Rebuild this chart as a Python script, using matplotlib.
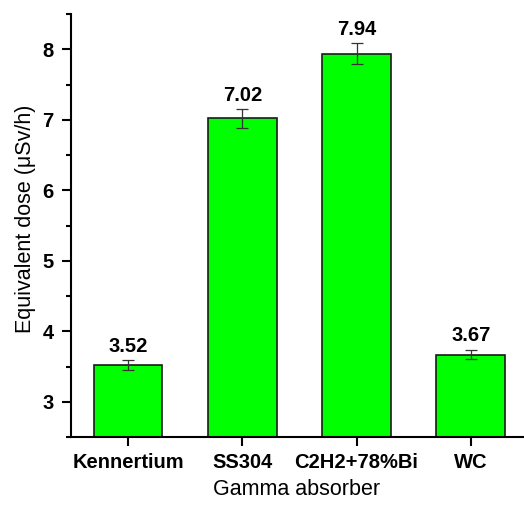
import matplotlib.pyplot as plt
from matplotlib.ticker import MultipleLocator

absorbers = ["Kennertium", "SS304", "C2H2+78%Bi", "WC"]
dose = [3.52, 7.02, 7.94, 3.67]
dose_err = [0.07, 0.13, 0.15, 0.07]

plt.rcParams["font.family"] = ["Liberation Sans", "DejaVu Sans"]

fig = plt.figure(figsize=(5.24, 5.05), dpi=100)
ax = fig.add_axes([0.1355, 0.1347, 0.862, 0.8373])

x = range(len(absorbers))
ax.bar(x, dose, width=0.6, bottom=0, color="#00ff00", edgecolor="#1a1a1a",
       linewidth=1.2, zorder=2)
ax.errorbar(x, dose, yerr=dose_err, fmt="none", ecolor="#333333",
            elinewidth=0.9, capsize=4, capthick=0.9, zorder=3)

for xi, v, e in zip(x, dose, dose_err):
    ax.text(xi, v + e + 0.06, f"{v:.2f}", ha="center", va="bottom",
            fontsize=14.5, fontweight="bold")

ax.set_ylim(2.5, 8.5)
ax.set_xlim(-0.5, 3.455)
ax.yaxis.set_major_locator(MultipleLocator(1))
ax.yaxis.set_minor_locator(MultipleLocator(0.5))

ax.set_xticks(list(x))
ax.set_xticklabels(absorbers, fontsize=14.5, fontweight="bold")
for lbl in ax.get_yticklabels():
    lbl.set_fontsize(14.5)
    lbl.set_fontweight("bold")

ax.spines["top"].set_visible(False)
ax.spines["right"].set_visible(False)
ax.spines["left"].set_linewidth(1.5)
ax.spines["bottom"].set_linewidth(1.5)
ax.tick_params(axis="both", which="major", direction="out", length=6.5, width=1.5)
ax.tick_params(axis="y", which="major", pad=6)
ax.tick_params(axis="x", which="major", pad=5)
ax.tick_params(axis="y", which="minor", direction="out", length=3.5, width=1.5)

ax.set_ylabel("Equivalent dose (\u03bcSv/h)", fontsize=15.5)
ax.yaxis.set_label_coords(-0.078, 0.515)
ax.set_xlabel("Gamma absorber", fontsize=15.5, labelpad=5)

fig.savefig("out.png", dpi=100)
